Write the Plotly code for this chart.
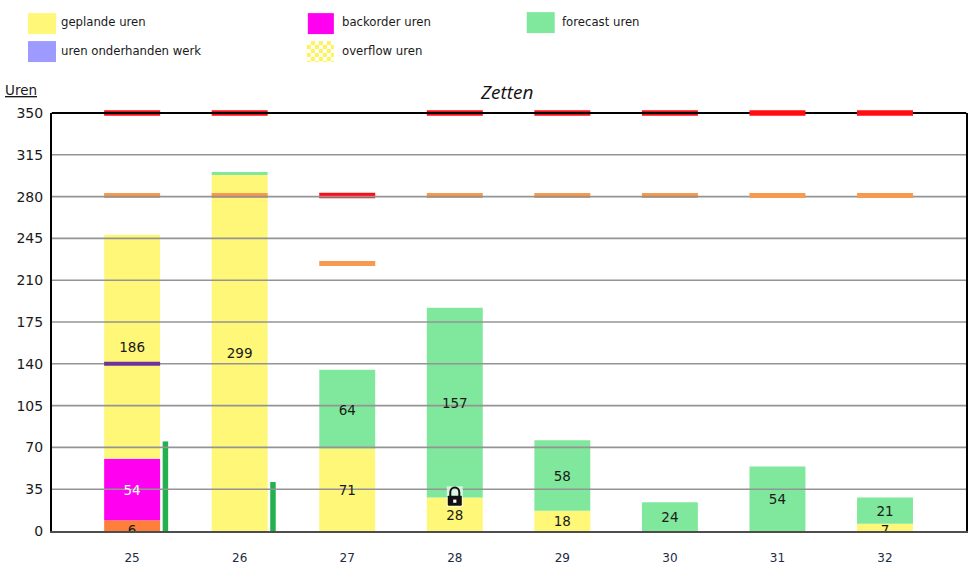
import numpy as np
import plotly.graph_objects as go

weeks = [25, 26, 27, 28, 29, 30, 31, 32]
orange_bar = [9, 0, 0, 0, 0, 0, 0, 0]
backorder = [51.5, 0, 0, 0, 0, 0, 0, 0]
planned = [187.5, 298, 69, 28, 17, 0, 0, 6]
forecast = [0, 2.5, 66, 159, 59, 24, 54, 22]
wip_bar = [75, 41]
wip_weeks = [25, 26]

clipped_labels = ["6", "", "", "", "", "", "", "7"]
backorder_labels = ["54", "", "", "", "", "", "", ""]
planned_labels = ["186", "299", "71", "28", "18", "", "", ""]
forecast_labels = ["", "", "64", "157", "58", "24", "54", "21"]

red_values = [350, 350, 281, 350, 350, 350, 350, 350]
orange_values = [281, 281, 224, 281, 281, 281, 281, 281]
purple_weeks = [25]
purple_values = [140]
y_ticks = [0, 35, 70, 105, 140, 175, 210, 245, 280, 315, 350]

W, H = 976, 574
L, R, T, B = 52, 966.5, 113, 531.5
X_RANGE = [24.255, 32.753]
BAR_W = 0.52
MARKER_K = 1.4  # a line-ew marker is drawn this many times its size
DASH_PX = 56 / MARKER_K
YELLOW, MAGENTA, GREEN = "#fff778", "#ff00f0", "#80e89c"
FONT = "DejaVu Sans"
INK = "#1a1a1a"


def px(x):
    return (x - L) / (R - L)


def py(y):
    return (B - y) / (B - T)


orange_a = np.array(orange_bar, float)
back_a = np.array(backorder, float)
plan_a = np.array(planned, float)
fore_a = np.array(forecast, float)
base_back = orange_a
base_plan = orange_a + back_a
base_fore = base_plan + plan_a

fig = go.Figure()


def bar(name, vals, base, color):
    fig.add_trace(go.Bar(x=weeks, y=vals, base=base, width=BAR_W, name=name,
                         marker=dict(color=color, line_width=0), showlegend=False))


bar("orange", orange_a, np.zeros(8), "#ff7f3a")
bar("backorder uren", back_a, base_back, MAGENTA)
bar("geplande uren", plan_a, base_plan, YELLOW)
bar("forecast uren", fore_a, base_fore, GREEN)
fig.add_trace(go.Bar(x=wip_weeks, y=wip_bar, width=0.051, offset=0.284, name="wip",
                     marker=dict(color="#22b14c", line_width=0), showlegend=False))


def dashes(name, wk, vals, color, width, size=DASH_PX):
    fig.add_trace(go.Scatter(x=wk, y=vals, mode="markers", name=name, cliponaxis=False,
                             marker=dict(symbol="line-ew", size=size,
                                         line=dict(color=color, width=width)),
                             showlegend=False, hoverinfo="skip"))


RED, ORANGE = "#f5101a", "#f59a50"
dashes("capaciteit max", weeks[:6], red_values[:6], RED, 5.5)
dashes("capaciteit", weeks[:6], orange_values[:6], ORANGE, 5)

# gridlines sit above the bars and the first marks, as in the reference
gx, gy = [], []
for t in y_ticks[1:-1]:
    gx += [X_RANGE[0], X_RANGE[1], None]
    gy += [t, t, None]
fig.add_trace(go.Scatter(x=gx, y=gy, mode="lines", line=dict(color="#949494", width=1.6),
                         showlegend=False, hoverinfo="skip", name="grid"))
dashes("top", [sum(X_RANGE) / 2], [350], "#000000", 2, size=(R - L) / MARKER_K)

dashes("capaciteit max 2", weeks[6:], red_values[6:], "#ff0d12", 5.5)
dashes("capaciteit 2", weeks[6:], orange_values[6:], ORANGE, 5)
dashes("onderhanden", purple_weeks, purple_values, "#7030a0", 4)


def labels(name, texts, ys, color, position="middle center"):
    fig.add_trace(go.Scatter(x=weeks, y=ys, mode="text", text=texts, name=name,
                             textposition=position, cliponaxis=True,
                             textfont=dict(family=FONT, size=13.5, color=color),
                             showlegend=False, hoverinfo="skip"))


CLIPPED_Y = 5.0
LABEL_SHIFT = -1.7
labels("l clipped", clipped_labels, [CLIPPED_Y] * 8, INK, "bottom center")
labels("l back", backorder_labels, base_back + back_a / 2 + LABEL_SHIFT, "#ffffff")
labels("l plan", planned_labels, base_plan + plan_a / 2 + LABEL_SHIFT, INK)
labels("l fore", forecast_labels, base_fore + fore_a / 2 + LABEL_SHIFT, INK)

shapes = []
swatches = [
    (28, 13, 56, 34, YELLOW),
    (308, 13, 334, 34, MAGENTA),
    (527, 12, 555, 33, GREEN),
    (28, 41, 56, 62, "#9d9bff"),
]
for x0, y0, x1, y1, c in swatches:
    shapes.append(dict(type="rect", xref="paper", yref="paper", x0=px(x0), x1=px(x1),
                       y0=py(y0), y1=py(y1), fillcolor=c, line_width=0))
# overflow swatch: checker pattern
shapes.append(dict(type="rect", xref="paper", yref="paper", x0=px(307), x1=px(334),
                   y0=py(41), y1=py(62), fillcolor="#fff35a", line_width=0))
cell = 4
path = ""
for i in range(7):
    for j in range(6):
        if (i + j) % 2 == 0:
            a, b = 307 + i * cell, 41 + j * cell
            a1, b1 = min(a + cell, 334), min(b + cell, 62)
            path += f"M{px(a)},{py(b)}L{px(a1)},{py(b)}L{px(a1)},{py(b1)}L{px(a)},{py(b1)}Z"
shapes.append(dict(type="path", xref="paper", yref="paper", path=path,
                   fillcolor="#ffffff", line_width=0))


# padlock on week 28
def lock(path_d, fill, line=None, lw=0):
    shapes.append(dict(type="path", xref="x", yref="y", xsizemode="pixel", ysizemode="pixel",
                       xanchor=28, yanchor=29, path=path_d, fillcolor=fill,
                       line=dict(color=line or "rgba(0,0,0,0)", width=lw), layer="above"))


lock("M-8,10L8,10L8,-10.5L-8,-10.5Z", "rgba(255,255,255,0.7)")
lock("M-4.5,0L-4.5,4C-4.5,10.5 4.5,10.5 4.5,4L4.5,0", "rgba(0,0,0,0)", "#111111", 2)
lock("M-6.5,0.5L6.5,0.5L7,0L7,-8.5L6.5,-9.5L-6.5,-9.5L-7,-8.5L-7,0Z", "#111111")
lock("M-1.6,-3.2L1.6,-3.2L1.6,-6.4L-1.6,-6.4Z", "#ffffff")

annotations = []
legend_texts = [
    ("geplande uren", 59, 21.5),
    ("backorder uren", 340, 21.5),
    ("forecast uren", 560, 21.5),
    ("uren onderhanden werk", 59, 50.5),
    ("overflow uren", 340, 50.5),
]
for text, x, y in legend_texts:
    annotations.append(dict(text=text, xref="paper", yref="paper", x=px(x), y=py(y),
                            xanchor="left", yanchor="middle", showarrow=False,
                            font=dict(family=FONT, size=11.7, color=INK)))
annotations.append(dict(text="<u>Uren</u>", xref="paper", yref="paper", x=px(3), y=py(90),
                        xanchor="left", yanchor="middle", showarrow=False,
                        font=dict(family=FONT, size=13.5, color=INK)))
annotations.append(dict(text="<i>Zetten</i>", xref="paper", yref="paper", x=px(507), y=py(92),
                        xanchor="center", yanchor="middle", showarrow=False,
                        font=dict(family="Open Sans", size=19, color="#111111")))

fig.update_layout(
    width=W, height=H, autosize=False,
    margin=dict(l=L, r=W - R, t=T, b=H - B, pad=0),
    paper_bgcolor="white", plot_bgcolor="white",
    barmode="overlay", shapes=shapes, annotations=annotations,
    font=dict(family=FONT, color=INK),
    xaxis=dict(range=X_RANGE, tickmode="array", tickvals=weeks, ticktext=[str(w) for w in weeks],
               automargin=False,
               showgrid=False, zeroline=False, showline=True, linecolor="#4d4d4d", linewidth=2,
               ticks="outside", ticklen=15, tickcolor="rgba(0,0,0,0)",
               tickfont=dict(family=FONT, size=12, color="#222a44")),
    yaxis=dict(range=[0, 350], tickmode="array", tickvals=y_ticks, showgrid=False, zeroline=False,
               automargin=False,
               showline=True, mirror=True, linecolor="#000000", linewidth=2,
               ticks="outside", ticklen=4, tickcolor="rgba(0,0,0,0)",
               tickfont=dict(family=FONT, size=14, color=INK)),
)

fig.write_html("out.html", config={"displayModeBar": False},
               post_script="document.body.style.margin='0';")
